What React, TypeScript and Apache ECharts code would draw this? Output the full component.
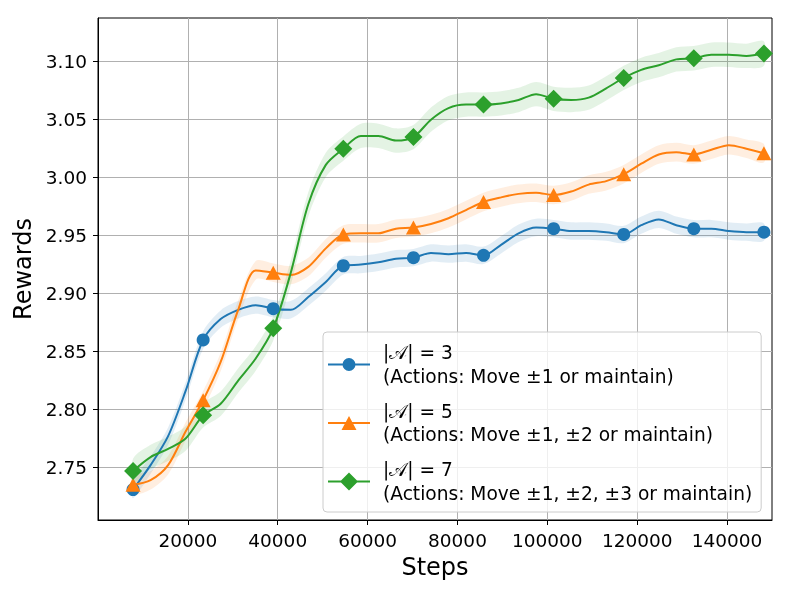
import React, { useEffect, useRef } from "react";
import * as echarts from "echarts";

// Training steps at which the smoothed curves were sampled
const steps = [
  7800, 11700, 15600, 19500, 23400, 27300, 31200, 35100, 39000, 42900, 46800,
  50700, 54600, 58500, 62400, 66300, 70200, 74100, 78000, 81900, 85800, 89700,
  93600, 97500, 101400, 105300, 109200, 113100, 117000, 120900, 124800, 128700,
  132600, 136500, 140400, 144300, 148200,
];

const rewardsA3 = [
  2.731, 2.752, 2.777, 2.816, 2.86, 2.878, 2.886, 2.89, 2.887, 2.886, 2.897,
  2.91, 2.924, 2.925, 2.927, 2.93, 2.931, 2.935, 2.934, 2.935, 2.933, 2.942,
  2.952, 2.957, 2.956, 2.954, 2.954, 2.953, 2.951, 2.959, 2.964, 2.959, 2.956,
  2.956, 2.954, 2.953, 2.953,
];

const rewardsA5 = [
  2.735, 2.739, 2.752, 2.781, 2.808, 2.841, 2.886, 2.92, 2.918, 2.916, 2.923,
  2.939, 2.951, 2.952, 2.952, 2.956, 2.957, 2.96, 2.965, 2.972, 2.979, 2.983,
  2.986, 2.987, 2.985, 2.988, 2.994, 2.997, 3.003, 3.012, 3.02, 3.022, 3.02,
  3.024, 3.028, 3.025, 3.021,
];

const rewardsA7 = [
  2.747, 2.759, 2.766, 2.775, 2.795, 2.805, 2.825, 2.844, 2.87, 2.918, 2.977,
  3.011, 3.025, 3.036, 3.036, 3.032, 3.035, 3.05, 3.06, 3.063, 3.063, 3.064,
  3.067, 3.072, 3.068, 3.067, 3.069, 3.077, 3.086, 3.093, 3.097, 3.102, 3.103,
  3.106, 3.106, 3.105, 3.107,
];

// half-width of the shaded spread around each curve
const spreadA3 = 0.0075;
const spreadA5 = 0.008;
const spreadA7 = 0.0105;

const seriesNames = [
  "|𝒜| = 3\n(Actions: Move ±1 or maintain)",
  "|𝒜| = 5\n(Actions: Move ±1, ±2 or maintain)",
  "|𝒜| = 7\n(Actions: Move ±1, ±2, ±3 or maintain)",
];

const xTicks = [20000, 40000, 60000, 80000, 100000, 120000, 140000];
const yTicks = [2.75, 2.8, 2.85, 2.9, 2.95, 3.0, 3.05, 3.1];

const MARKER_EVERY = 4;
const FONT = "DejaVu Sans, Noto Sans, sans-serif";

const colors = ["#1f77b4", "#ff7f0e", "#2ca02c"];
const symbols = ["circle", "triangle", "diamond"];
const symbolSizes: (number | number[])[] = [13, [15, 14], [18, 18]];
const legendIcons = [
  "path://M0,0Z M42,18Z M0,8H42V10H0Z M14.5,9A6.5,6.5 0 1,1 27.5,9A6.5,6.5 0 1,1 14.5,9Z",
  "path://M0,0Z M42,18Z M0,8H42V10H0Z M21,2L28.5,16L13.5,16Z",
  "path://M0,0Z M42,18Z M0,8H42V10H0Z M21,0L30,9L21,18L12,9Z",
];

export default function App() {
  const ref = useRef<HTMLDivElement>(null);

  useEffect(() => {
    if (!ref.current) return;
    const chart = echarts.init(ref.current, undefined, { renderer: "svg" });
    const all = [rewardsA3, rewardsA5, rewardsA7];
    const spreads = [spreadA3, spreadA5, spreadA7];

    const bandSeries = all.map((ys, k) => ({
      type: "custom",
      name: "band" + k,
      coordinateSystem: "cartesian2d",
      silent: true,
      clip: true,
      z: 1,
      data: [[steps[0], ys[0]]],
      renderItem: (_params: any, api: any) => {
        const upper = steps.map((s, i) => api.coord([s, ys[i] + spreads[k]]));
        const lower = steps
          .map((s, i) => api.coord([s, ys[i] - spreads[k]]))
          .reverse();
        return {
          type: "polygon",
          shape: { points: upper.concat(lower), smooth: 0.3 },
          style: { fill: echarts.color.modifyAlpha(colors[k], 0.13) },
          silent: true,
        };
      },
    }));

    const mainSeries = all.map((ys, k) => ({
      type: "line",
      name: seriesNames[k],
      data: steps.map((s, i) => [s, ys[i]]),
      smooth: 0.3,
      symbol: symbols[k],
      showAllSymbol: true,
      symbolSize: (_v: any, p: any) =>
        p.dataIndex % MARKER_EVERY === 0 ? symbolSizes[k] : 0,
      lineStyle: { color: colors[k], width: 2 },
      itemStyle: { color: colors[k], borderWidth: 0 },
      emphasis: { disabled: true },
      z: 3,
    }));

    chart.setOption({
      animation: false,
      grid: {
        left: 98,
        right: 16,
        top: 18,
        bottom: 77,
        show: true,
        borderColor: "#000",
        borderWidth: 1,
        backgroundColor: "transparent",
      },
      xAxis: {
        type: "value",
        min: 0,
        max: 150000,
        name: "Steps",
        nameLocation: "middle",
        nameGap: 32,
        nameTextStyle: { fontFamily: FONT, fontSize: 24, color: "#000" },
        axisLine: { show: true, lineStyle: { color: "#000", width: 1 } },
        axisTick: {
          show: true,
          length: 5,
          lineStyle: { color: "#000" },
          customValues: xTicks,
        },
        axisLabel: {
          fontFamily: FONT,
          fontSize: 18.5,
          color: "#000",
          margin: 11,
          customValues: xTicks,
          formatter: (v: number) => String(v),
        },
        splitLine: { show: true, lineStyle: { color: "#b0b0b0", width: 1 } },
      },
      yAxis: {
        type: "value",
        min: 2.7047,
        max: 3.1377,
        name: "Rewards",
        nameLocation: "middle",
        nameGap: 52,
        nameTextStyle: { fontFamily: FONT, fontSize: 24, color: "#000" },
        axisLine: { show: true, lineStyle: { color: "#000", width: 1 } },
        axisTick: {
          show: true,
          length: 5,
          lineStyle: { color: "#000" },
          customValues: yTicks,
        },
        axisLabel: {
          fontFamily: FONT,
          fontSize: 18.5,
          color: "#000",
          margin: 11,
          customValues: yTicks,
          formatter: (v: number) => v.toFixed(2),
        },
        splitLine: { show: true, lineStyle: { color: "#b0b0b0", width: 1 } },
      },
      legend: {
        orient: "vertical",
        left: 323,
        top: 332,
        itemWidth: 42,
        itemHeight: 18,
        itemGap: 11.5,
        padding: [9, 9, 7, 5],
        backgroundColor: "rgba(255,255,255,0.8)",
        borderColor: "#cccccc",
        borderWidth: 1,
        borderRadius: 4,
        selectedMode: false,
        itemStyle: { borderWidth: 0 },
        textStyle: {
          fontFamily: FONT,
          fontSize: 18.6,
          lineHeight: 23.5,
          color: "#000",
          padding: [0, 0, 0, 8],
        },
        data: seriesNames.map((n, k) => ({ name: n, icon: legendIcons[k] })),
      },
      series: [...bandSeries, ...mainSeries],
    });

    return () => chart.dispose();
  }, []);

  return (
    <div
      ref={ref}
      style={{ position: "fixed", left: 0, top: 0, width: 788, height: 597 }}
    />
  );
}
